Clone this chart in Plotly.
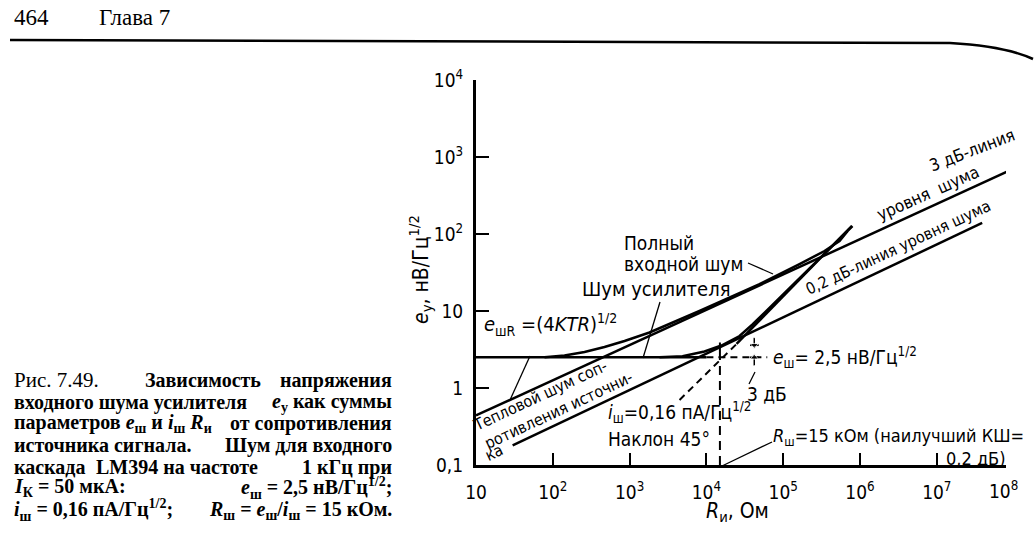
import plotly.graph_objects as go

# ---------------- data ----------------
# source resistance R (Ohm) and noise voltage e (nV/Hz^1/2)
thermal_R = [10, 8.1e7]          # 3 dB line = source thermal noise (4kTR)^1/2
thermal_e = [0.44, 640]

nf02_R = [30, 3.9e7]             # 0.2 dB noise line
nf02_e = [0.18, 139]

en_solid_R = [10, 1.0e4]         # e_n = 2.5 nV/Hz^1/2
en_solid_e = [2.5, 2.5]
en_dash_R = [1.0e4, 6.2e4]
en_dash_e = [2.5, 2.5]

inR_dash_R = [4470, 2.47e4]      # i_n * R, 45 deg slope
inR_dash_e = [0.70, 3.73]
inR_solid_R = [2.47e4, 7.8e5]
inR_solid_e = [3.73, 127]

amp_R = [2450, 4890, 9440, 1.57e4, 2.70e4, 3.98e4, 7.26e4, 1.63e5, 5.41e5, 7.98e5]
amp_e = [2.5, 2.58, 2.98, 3.56, 4.73, 6.68, 11.97, 26.4, 86.1, 127]

total_R = [78, 142, 259, 471, 859, 1816, 8130, 4.91e4, 1.63e5, 3.45e5, 5.41e5, 6.87e5]
total_e = [2.5, 2.64, 2.93, 3.41, 4.08, 5.26, 10.0, 22.4, 40.7, 60.1, 81.1, 109]

Rn = 1.5e4                       # R_n = e_n / i_n
Rn_dash_e = [0.1, 2.5]
Rn_solid_e = [2.5, 3.9]

db3_R = 4.2e4                    # 3 dB marker
db3_bar_R = [3.7e4, 4.8e4]
db3_top_e = [4.5, 3.6]
db3_bot_e = [1.95, 2.5]

x_tickvals = [10, 1e2, 1e3, 1e4, 1e5, 1e6, 1e7]
x_ticktext = ["10", "10<sup>2</sup>", "10<sup>3</sup>", "10<sup>4</sup>",
              "10<sup>5</sup>", "10<sup>6</sup>", "10<sup>7</sup>"]
y_tickvals = [0.1, 1, 10, 1e2, 1e3, 1e4]
y_ticktext = ["0,1", "1", "10", "10<sup>2</sup>", "10<sup>3</sup>", "10<sup>4</sup>"]

# ---------------- figure ----------------
W, H = 1035, 536
L, Rr, T, B = 476, 1006, 80, 465
SANS = "DejaVu Sans Condensed, DejaVu Sans, sans-serif"
SERIF = "Liberation Serif, Times New Roman, serif"
K = "#000000"


def P(px, py):
    return (px - L) / (Rr - L), (B - py) / (B - T)


fig = go.Figure()


def line(xs, ys, dash="solid", width=2.5):
    fig.add_trace(go.Scatter(x=xs, y=ys, mode="lines",
                             line=dict(color=K, width=width, dash=dash),
                             hoverinfo="skip", showlegend=False))


line(thermal_R, thermal_e)
line(nf02_R, nf02_e)
line(en_solid_R, en_solid_e)
line(en_dash_R, en_dash_e, dash="7px,5px", width=2)
line(inR_dash_R, inR_dash_e, dash="7px,5px", width=2)
line(inR_solid_R, inR_solid_e)
line(amp_R, amp_e)
line(total_R, total_e)
line([Rn, Rn], Rn_dash_e, dash="9px,6px", width=2)
line([Rn, Rn], Rn_solid_e, width=2)
# 3 dB marker
line(db3_bar_R, [db3_top_e[1]] * 2, width=1.8)
line(db3_bar_R, [db3_bot_e[1]] * 2, width=1.8)
fig.add_trace(go.Scatter(x=[db3_R, db3_R], y=db3_top_e, mode="lines+markers",
                         line=dict(color=K, width=1.5),
                         marker=dict(symbol=["line-ew", "triangle-down"], size=[1, 7], color=K),
                         hoverinfo="skip", showlegend=False))
fig.add_trace(go.Scatter(x=[db3_R, db3_R], y=db3_bot_e, mode="lines+markers",
                         line=dict(color=K, width=1.5),
                         marker=dict(symbol=["line-ew", "triangle-up"], size=[1, 7], color=K),
                         hoverinfo="skip", showlegend=False))

ann = []


def txt(px, py, s, size=19, font=SANS, xa="left", angle=0, ya="middle"):
    x, y = P(px, py)
    ann.append(dict(x=x, y=y, xref="paper", yref="paper", text=s, showarrow=False,
                    xanchor=xa, yanchor=ya, textangle=angle,
                    font=dict(family=font, size=size, color=K)))


# chart labels
txt(622, 243, "Полный", 19)
txt(622, 264, "входной шум", 19)
txt(580, 289, "Шум усилителя", 20)
txt(482, 324, "<i>e</i><sub>шR</sub> =(4<i>KTR</i>)<sup>1/2</sup>", 20)
txt(540, 395, "Тепловой шум соп-", 16, xa="center", angle=-25)
txt(558, 410, "ротивления источни-", 16, xa="center", angle=-25)
txt(494, 452, "ка", 16, xa="center", angle=-25)
txt(606, 412, "<i>i</i><sub>ш</sub>=0,16 пА/Гц<sup>1/2</sup>", 19)
txt(606, 439, "Наклон 45°", 19)
txt(771, 357, "<i>e</i><sub>ш</sub>= 2,5 нВ/Гц<sup>1/2</sup>", 19)
txt(745, 394, "3 дБ", 19)
txt(771, 437, "<i>R</i><sub>ш</sub>=15 кОм (наилучший КШ=", 18)
txt(944, 458, "0,2 дБ)", 18)
txt(972, 150, "3 дБ-линия", 17, xa="center", angle=-21)
txt(928, 193, "уровня  шума", 17, xa="center", angle=-24)
txt(898, 247, "0,2 дБ-линия уровня шума", 16, xa="center", angle=-25)
txt(1003, 490, "10<sup>8</sup>", 19, xa="center")

# axis titles
txt(420, 270, "<i>e</i><sub>у</sub>, нВ/Гц<sup>1/2</sup>", 21, xa="center", angle=-90)
txt(737, 512, "<i>R</i><sub>и</sub>, Ом", 21, xa="center")

# page header
txt(12, 17, "464", 23, font=SERIF)
txt(97, 17, "Глава 7", 23, font=SERIF)

# caption (justified lines)
CB = SERIF
CS = 20
rows = [380, 402, 423, 445, 467, 488, 510]
txt(12, rows[0], "Рис. 7.49.", 21, font=CB)
txt(143, rows[0], "<b>Зависимость</b>", CS, font=CB)
txt(394, rows[0], "<b>напряжения</b>", CS, font=CB, xa="right")
txt(12, rows[1], "<b>входного шума усилителя</b>", CS, font=CB)
txt(394, rows[1], "<b><i>e</i><sub>у</sub> как суммы</b>", CS, font=CB, xa="right")
txt(12, rows[2], "<b>параметров <i>e</i><sub>ш</sub> и <i>i</i><sub>ш</sub> <i>R</i><sub>и</sub></b>", CS, font=CB)
txt(394, rows[2], "<b>от сопротивления</b>", CS, font=CB, xa="right")
txt(12, rows[3], "<b>источника сигнала.</b>", CS, font=CB)
txt(394, rows[3], "<b>Шум для входного</b>", CS, font=CB, xa="right")
txt(12, rows[4], "<b>каскада</b>", CS, font=CB)
txt(94, rows[4], "<b>LM394 на частоте</b>", CS, font=CB)
txt(394, rows[4], "<b>1 кГц при</b>", CS, font=CB, xa="right")
txt(12, rows[5], "<b><i>I</i><sub>К</sub> = 50 мкА:</b>", CS, font=CB)
txt(394, rows[5], "<b><i>e</i><sub>ш</sub> = 2,5 нВ/Гц<sup>1/2</sup>;</b>", CS, font=CB, xa="right")
txt(12, rows[6], "<b><i>i</i><sub>ш</sub> = 0,16 пА/Гц<sup>1/2</sup>;</b>", CS, font=CB)
txt(394, rows[6], "<b><i>R</i><sub>ш</sub> = <i>e</i><sub>ш</sub>/<i>i</i><sub>ш</sub> = 15 кОм.</b>", CS, font=CB, xa="right")

shapes = []


def seg(p0, p1, width=1.3):
    x0, y0 = P(*p0)
    x1, y1 = P(*p1)
    shapes.append(dict(type="line", xref="paper", yref="paper", x0=x0, y0=y0, x1=x1, y1=y1,
                       line=dict(color=K, width=width)))


seg((748, 263), (773, 274))   # total noise pointer
seg((660, 302), (643, 358))   # amplifier noise pointer
seg((530, 356), (510, 400))   # thermal pointer
seg((772, 442), (722, 466))   # R_n pointer
seg((755, 372), (749, 384))   # 3 dB leader

# header rule (page curvature in the scan)
x0, y0 = P(10, 40)
x1, y1 = P(950, 43)
xc, yc = P(1005, 46)
x2, y2 = P(1033, 59)
shapes.append(dict(type="path", xref="paper", yref="paper",
                   path=f"M {x0},{y0} L {x1},{y1} Q {xc},{yc} {x2},{y2}",
                   line=dict(color=K, width=2.5)))

fig.update_layout(
    width=W, height=H, autosize=False,
    margin=dict(l=L, r=W - Rr, t=T, b=H - B, pad=0),
    paper_bgcolor="white", plot_bgcolor="white",
    annotations=ann, shapes=shapes, showlegend=False,
    xaxis=dict(type="log", range=[1, 1 + (Rr - L) / 76.8], tickvals=x_tickvals, ticktext=x_ticktext,
               showgrid=False, zeroline=False, showline=True, linecolor=K, linewidth=2.5,
               ticks="inside", ticklen=12, tickwidth=1.5, tickcolor=K,
               ticklabelstandoff=8,
               tickfont=dict(family=SANS, size=19, color=K)),
    yaxis=dict(type="log", range=[-1, 4], tickvals=y_tickvals, ticktext=y_ticktext,
               showgrid=False, zeroline=False, showline=True, linecolor=K, linewidth=3,
               ticks="inside", ticklen=13, tickwidth=1.5, tickcolor=K,
               ticklabelstandoff=6,
               tickfont=dict(family=SANS, size=19, color=K)),
)

fig.write_html("out.html", config={"displayModeBar": False},
               post_script="document.body.style.margin='0';")
